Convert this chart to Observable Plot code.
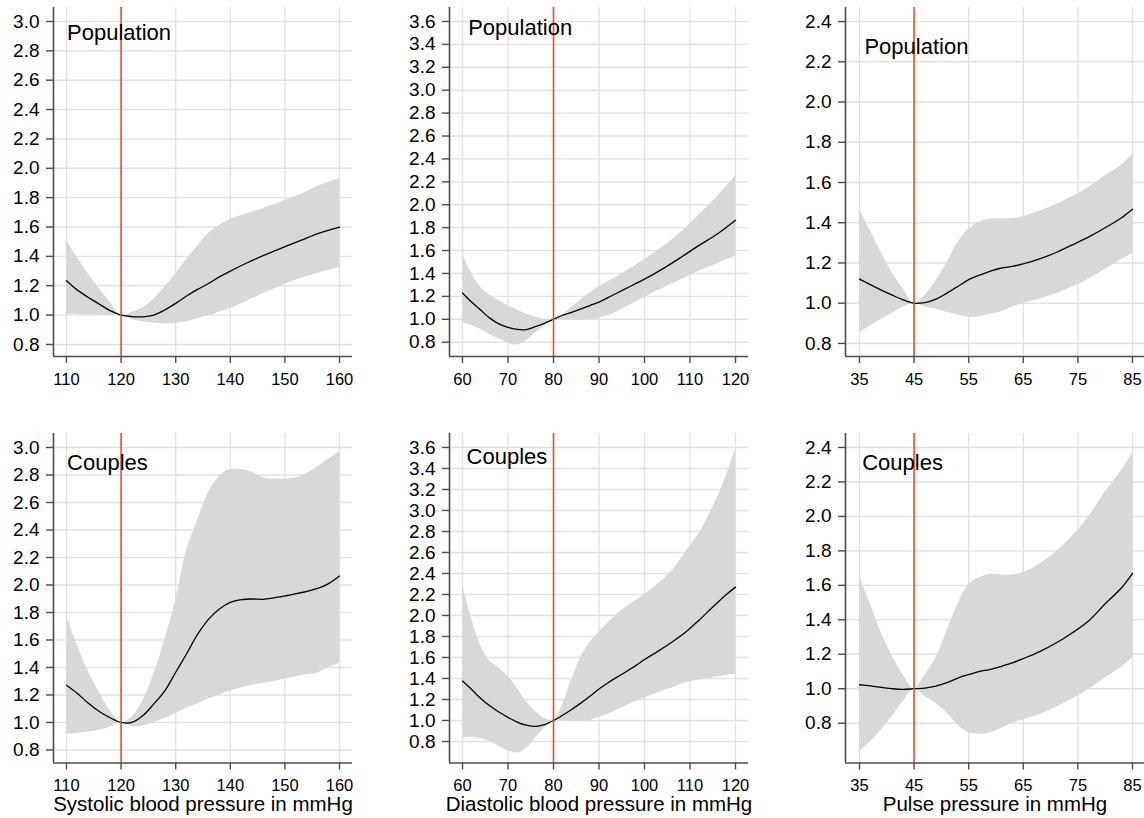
<!DOCTYPE html>
<html>
<head>
<meta charset="utf-8">
<script src="https://cdn.jsdelivr.net/npm/d3@7"></script>
<script src="https://cdn.jsdelivr.net/npm/@observablehq/plot@0.6"></script>
<style>
  body { margin: 0; background: white; }
  #wrap { position: relative; width: 1144px; height: 818px; background: white; overflow: hidden; }
</style>
</head>
<body>
<div id="wrap"></div>
<script>
// ---------- Data ----------
// Systolic, population
const sysPopX   = [110,112,114,116,118,120,122,124,126,128,130,132,134,136,138,140,143,146,150,153,156,160];
const sysPopEst = [1.234,1.17,1.12,1.075,1.03,1.0,0.99,0.988,1.0,1.035,1.08,1.13,1.175,1.215,1.26,1.30,1.355,1.405,1.466,1.51,1.555,1.60];
const sysPopHi  = [1.51,1.39,1.28,1.18,1.09,1.0,1.02,1.05,1.11,1.19,1.28,1.38,1.47,1.555,1.61,1.65,1.69,1.725,1.78,1.825,1.875,1.93];
const sysPopLo  = [1.005,1.002,1.0,1.0,0.998,1.0,0.97,0.955,0.945,0.94,0.942,0.955,0.975,0.995,1.02,1.045,1.095,1.145,1.21,1.25,1.285,1.325];

// Diastolic, population
const diaPopX   = [60,62,64,66,68,70,72,74,76,78,80,82,84,86,88,90,93,96,100,104,108,112,116,120];
const diaPopEst = [1.23,1.15,1.08,1.01,0.96,0.93,0.912,0.91,0.935,0.965,1.0,1.035,1.06,1.09,1.12,1.15,1.21,1.27,1.35,1.44,1.54,1.645,1.745,1.865];
const diaPopHi  = [1.566,1.40,1.28,1.21,1.16,1.12,1.08,1.045,1.02,1.0,1.0,1.04,1.10,1.17,1.23,1.285,1.35,1.42,1.52,1.63,1.76,1.91,2.07,2.25];
const diaPopLo  = [0.975,0.945,0.91,0.865,0.83,0.79,0.775,0.81,0.88,0.94,1.0,0.995,0.993,0.995,0.997,1.01,1.047,1.11,1.19,1.27,1.345,1.42,1.485,1.55];

// Pulse pressure, population
const ppPopX   = [35,37,39,41,43,45,47,49,51,53,55,57,59,61,63,65,68,71,74,77,80,83,85];
const ppPopEst = [1.12,1.092,1.065,1.04,1.017,1.0,1.003,1.02,1.05,1.083,1.117,1.14,1.16,1.175,1.183,1.195,1.22,1.252,1.29,1.33,1.375,1.425,1.467];
const ppPopHi  = [1.467,1.36,1.25,1.15,1.07,1.0,1.04,1.11,1.2,1.30,1.367,1.403,1.418,1.42,1.42,1.43,1.458,1.49,1.53,1.575,1.633,1.687,1.737];
const ppPopLo  = [0.853,0.887,0.92,0.95,0.98,1.0,0.98,0.97,0.955,0.942,0.93,0.933,0.945,0.958,0.98,1.0,1.02,1.047,1.08,1.12,1.167,1.217,1.247];

// Systolic, couples
const sysCouX   = [110,112,114,116,118,120,122,124,126,128,130,132,134,136,138,140,142,144,146,148,150,153,156,158,160];
const sysCouEst = [1.27,1.21,1.14,1.08,1.034,1.0,1.0,1.05,1.135,1.23,1.365,1.50,1.64,1.75,1.826,1.874,1.893,1.898,1.896,1.906,1.92,1.944,1.975,2.01,2.065];
const sysCouHi  = [1.777,1.56,1.37,1.22,1.087,1.0,1.04,1.16,1.35,1.60,1.886,2.25,2.47,2.67,2.79,2.84,2.84,2.82,2.78,2.77,2.77,2.79,2.86,2.915,2.97];
const sysCouLo  = [0.913,0.92,0.93,0.943,0.965,1.0,0.97,0.975,1.0,1.027,1.063,1.104,1.135,1.17,1.2,1.228,1.25,1.27,1.283,1.298,1.315,1.34,1.36,1.4,1.43];

// Diastolic, couples
const diaCouX   = [60,62,64,66,68,70,72,74,76,78,80,82,84,86,88,90,92,95,98,100,103,106,109,112,115,118,120];
const diaCouEst = [1.375,1.295,1.21,1.14,1.08,1.03,0.985,0.955,0.943,0.96,1.0,1.05,1.105,1.165,1.23,1.3,1.36,1.44,1.52,1.58,1.66,1.745,1.84,1.955,2.08,2.2,2.27];
const diaCouHi  = [2.29,1.97,1.71,1.567,1.50,1.42,1.31,1.18,1.087,1.02,1.0,1.15,1.39,1.60,1.74,1.84,1.93,2.05,2.14,2.2,2.3,2.42,2.6,2.78,3.03,3.33,3.58];
const diaCouLo  = [0.83,0.84,0.825,0.80,0.756,0.71,0.69,0.734,0.83,0.926,1.0,1.0,0.99,0.99,1.0,1.03,1.06,1.12,1.18,1.215,1.265,1.31,1.36,1.385,1.407,1.43,1.44];

// Pulse pressure, couples
const ppCouX   = [35,37,39,41,43,45,47,49,51,53,55,57,59,61,63,65,68,71,74,77,80,83,85];
const ppCouEst = [1.023,1.016,1.008,1.0,0.996,1.0,1.004,1.015,1.035,1.062,1.082,1.10,1.112,1.13,1.15,1.175,1.215,1.265,1.325,1.395,1.493,1.586,1.67];
const ppCouHi  = [1.654,1.49,1.324,1.188,1.08,1.0,1.08,1.18,1.334,1.49,1.605,1.645,1.664,1.66,1.66,1.674,1.722,1.795,1.885,2.0,2.14,2.266,2.367];
const ppCouLo  = [0.635,0.693,0.76,0.84,0.926,1.0,0.955,0.915,0.86,0.79,0.745,0.736,0.745,0.77,0.80,0.82,0.85,0.893,0.94,0.995,1.062,1.124,1.18];

// Ticks, reference values, labels
const sysTicks = [110,120,130,140,150,160];
const diaTicks = [60,70,80,90,100,110,120];
const ppTicks  = [35,45,55,65,75,85];
const yTicks30 = [0.8,1.0,1.2,1.4,1.6,1.8,2.0,2.2,2.4,2.6,2.8,3.0];
const yTicks36 = [0.8,1.0,1.2,1.4,1.6,1.8,2.0,2.2,2.4,2.6,2.8,3.0,3.2,3.4,3.6];
const yTicks24 = [0.8,1.0,1.2,1.4,1.6,1.8,2.0,2.2,2.4];
const refValues = [120, 80, 45];
const groupNames = ["Population", "Couples"];
const axisTitles = ["Systolic blood pressure in mmHg", "Diastolic blood pressure in mmHg", "Pulse pressure in mmHg"];

// ---------- Layout ----------
const FONT = "'Liberation Sans', Arial, Helvetica, sans-serif";
const cols = [
  {left: 0,   width: 380, ml: 53, mr: 28, xTicks: sysTicks, xDom: [107.62, 162.38]},
  {left: 380, width: 380, ml: 69, mr: 12, xTicks: diaTicks, xDom: [57.14, 122.86]},
  {left: 760, width: 384, ml: 85, mr: 0,  xTicks: ppTicks,  xDom: [32.44, 87.2]}
];
const rows = [
  {top: 0,   height: 400, mt: 7,  mb: 44,   tickPad: 10},
  {top: 410, height: 408, mt: 23, mb: 55.5, tickPad: 9}
];

const panels = [
  {r:0,c:0, X:sysPopX, E:sysPopEst, L:sysPopLo, H:sysPopHi, yTicks:yTicks30, yDom:[0.718,3.095], lab:[110.1,2.871]},
  {r:0,c:1, X:diaPopX, E:diaPopEst, L:diaPopLo, H:diaPopHi, yTicks:yTicks36, yDom:[0.675,3.722], lab:[61.25,3.478]},
  {r:0,c:2, X:ppPopX,  E:ppPopEst,  L:ppPopLo,  H:ppPopHi,  yTicks:yTicks24, yDom:[0.735,2.47],  lab:[35.9,2.241]},
  {r:1,c:0, X:sysCouX, E:sysCouEst, L:sysCouLo, H:sysCouHi, yTicks:yTicks30, yDom:[0.705,3.102], lab:[110.1,2.833]},
  {r:1,c:1, X:diaCouX, E:diaCouEst, L:diaCouLo, H:diaCouHi, yTicks:yTicks36, yDom:[0.595,3.733], lab:[60.9,3.438]},
  {r:1,c:2, X:ppCouX,  E:ppCouEst,  L:ppCouLo,  H:ppCouHi,  yTicks:yTicks24, yDom:[0.569,2.481], lab:[35.5,2.267]}
];

const wrap = document.getElementById("wrap");
const AXIS = "#4d4d4d";
const GRID = "#e2e2e2";

for (const p of panels) {
  const col = cols[p.c], row = rows[p.r];
  const data = p.X.map((x, i) => ({x, est: p.E[i], lo: p.L[i], hi: p.H[i]}));
  const marks = [
    Plot.gridX(col.xTicks, {stroke: GRID, strokeOpacity: 1, strokeWidth: 1.4}),
    Plot.gridY(p.yTicks, {stroke: GRID, strokeOpacity: 1, strokeWidth: 1.4}),
    Plot.areaY(data, {x: "x", y1: "lo", y2: "hi", fill: "#d7d8d8", curve: "catmull-rom"}),
    Plot.lineY(data, {x: "x", y: "est", stroke: "black", strokeWidth: 1.3, curve: "catmull-rom"}),
    Plot.ruleX([refValues[p.c]], {stroke: "#ef4f2b", strokeWidth: 1.6}),
    Plot.ruleX([col.xDom[0]], {stroke: AXIS, strokeWidth: 1.6}),
    Plot.ruleY([p.yDom[0]], {stroke: AXIS, strokeWidth: 1.6}),
    Plot.axisX(col.xTicks, {tickSize: 7, tickPadding: row.tickPad, fontSize: 16.5, label: null, stroke: AXIS, strokeWidth: 1.4, fill: "black", tickFormat: d => String(d)}),
    Plot.axisY(p.yTicks, {tickSize: 7, tickPadding: 7, fontSize: 19, label: null, stroke: AXIS, strokeWidth: 1.4, fill: "black", tickFormat: d => d.toFixed(1)}),
    Plot.text([groupNames[p.r]], {x: () => p.lab[0], y: () => p.lab[1], text: d => d, textAnchor: "start", lineAnchor: "bottom", fontSize: 22, fill: "black"})
  ];
  if (p.r === 1) {
    marks.push(Plot.text([axisTitles[p.c]], {text: d => d, frameAnchor: "bottom", dy: 41, lineAnchor: "middle", fontSize: 20.5, fill: "black"}));
  }
  const chart = Plot.plot({
    width: col.width,
    height: row.height,
    marginLeft: col.ml,
    marginRight: col.mr,
    marginTop: row.mt,
    marginBottom: row.mb,
    style: {fontFamily: FONT, background: "transparent", overflow: "visible", color: "black"},
    x: {domain: col.xDom, axis: null},
    y: {domain: p.yDom, axis: null},
    marks
  });
  chart.style.position = "absolute";
  chart.style.left = col.left + "px";
  chart.style.top = row.top + "px";
  wrap.appendChild(chart);
}
</script>
</body>
</html>
